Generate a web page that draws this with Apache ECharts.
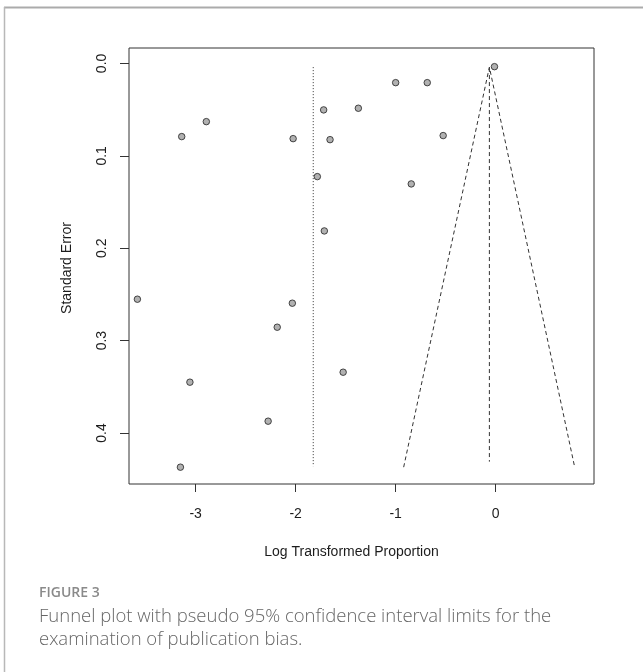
<!DOCTYPE html>
<html>
<head>
<meta charset="utf-8">
<script src="https://cdn.jsdelivr.net/npm/echarts@6/dist/echarts.min.js"></script>
<style>
html,body{margin:0;padding:0;background:#fff;}
#chart{width:643px;height:672px;}
</style>
</head>
<body>
<div id="chart"></div>
<script>
// Study estimates (log transformed proportion) and their standard errors
const studyLogProp = [-0.012, -1.00, -0.684, -1.72, -1.373, -2.893, -3.139, -2.025, -1.656, -0.525,
                      -1.783, -0.844, -1.713, -3.582, -2.033, -2.184, -1.525, -3.057, -2.275, -3.152];
const studySE      = [0.0035, 0.0208, 0.0208, 0.0503, 0.0485, 0.063, 0.0792, 0.0814, 0.0825, 0.0781,
                      0.1225, 0.1304, 0.1813, 0.2552, 0.2595, 0.2855, 0.3342, 0.345, 0.3872, 0.437];
// Pseudo 95% CI funnel (left bottom, apex, right bottom)
const funnelX  = [-0.92, -0.063, 0.79];
const funnelSE = [0.437, 0.004, 0.437];
// Dashed reference line (common effect) and dotted line (random effects)
const dashedLineX = [-0.063, -0.063];
const dashedLineSE = [0.005, 0.431];
const dottedLineX = [-1.824, -1.824];
const dottedLineSE = [0.004, 0.436];
// Axis ticks
const xTicks = [-3, -2, -1, 0];
const yTicks = [0, 0.1, 0.2, 0.3, 0.4];

const zip = (xs, ys) => xs.map((x, i) => [x, ys[i]]);
const axisFont = '"Liberation Sans", Arial, sans-serif';
const ink = '#1c1c1c';

const chart = echarts.init(document.getElementById('chart'), null, {renderer: 'canvas'});
chart.setOption({
  animation: false,
  backgroundColor: '#fff',
  grid: {left: 129, right: 49, top: 48, bottom: 188, show: true, borderColor: '#333', borderWidth: 1, backgroundColor: 'transparent'},
  xAxis: {
    type: 'value', min: -3.666, max: 0.983,
    axisLine: {show: false, onZero: false},
    splitLine: {show: false},
    axisTick: {show: true, inside: false, length: 8, lineStyle: {color: '#333', width: 1}, customValues: xTicks},
    axisLabel: {customValues: xTicks, margin: 23, fontFamily: axisFont, fontSize: 14, color: ink,
                formatter: v => String(Math.round(v))}
  },
  yAxis: {
    type: 'value', inverse: true, min: -0.0167, max: 0.4552,
    axisLine: {show: false, onZero: false},
    splitLine: {show: false},
    axisTick: {show: true, inside: false, length: 9, lineStyle: {color: '#333', width: 1}, customValues: yTicks},
    axisLabel: {customValues: yTicks, rotate: 90, margin: 20, fontFamily: axisFont, fontSize: 14, color: ink,
                formatter: v => Number(v).toFixed(1)}
  },
  graphic: [
    {type: 'line', shape: {x1: 4, y1: 7.5, x2: 643, y2: 7.5}, style: {stroke: '#ababab', lineWidth: 2}, silent: true},
    {type: 'line', shape: {x1: 4.5, y1: 7, x2: 4.5, y2: 672}, style: {stroke: '#b8b8b8', lineWidth: 1.5}, silent: true},
    {type: 'text', x: 351.5, y: 551.7, style: {text: 'Log Transformed Proportion', font: '14px ' + axisFont, fill: ink, align: 'center', verticalAlign: 'middle'}, silent: true},
    {type: 'text', x: 66.7, y: 268, rotation: Math.PI / 2, style: {text: 'Standard Error', font: '14px ' + axisFont, fill: ink, align: 'center', verticalAlign: 'middle'}, silent: true},
    {type: 'text', x: 39, y: 593, style: {text: 'FIGURE 3', font: '600 14px "Open Sans", sans-serif', fill: '#8a8a8a', align: 'left', verticalAlign: 'middle'}, silent: true},
    {type: 'text', x: 39, y: 617, style: {text: 'Funnel plot with pseudo 95% confidence interval limits for the', font: '300 18.5px "Open Sans", sans-serif', fill: '#666', align: 'left', verticalAlign: 'middle'}, silent: true},
    {type: 'text', x: 39, y: 639.5, style: {text: 'examination of publication bias.', font: '300 18.5px "Open Sans", sans-serif', fill: '#666', align: 'left', verticalAlign: 'middle'}, silent: true}
  ],
  series: [
    {type: 'line', data: zip(funnelX, funnelSE), symbol: 'none', silent: true,
     lineStyle: {color: '#333', width: 1, type: [4, 3]}},
    {type: 'line', data: zip(dashedLineX, dashedLineSE), symbol: 'none', silent: true,
     lineStyle: {color: '#333', width: 1, type: [4, 3]}},
    {type: 'line', data: zip(dottedLineX, dottedLineSE), symbol: 'none', silent: true,
     lineStyle: {color: '#333', width: 1, type: [1, 2]}},
    {type: 'scatter', data: zip(studyLogProp, studySE), symbol: 'circle', symbolSize: 6.5, z: 5,
     itemStyle: {color: '#9e9e9e', borderColor: '#222', borderWidth: 1}}
  ]
});
</script>
</body>
</html>
